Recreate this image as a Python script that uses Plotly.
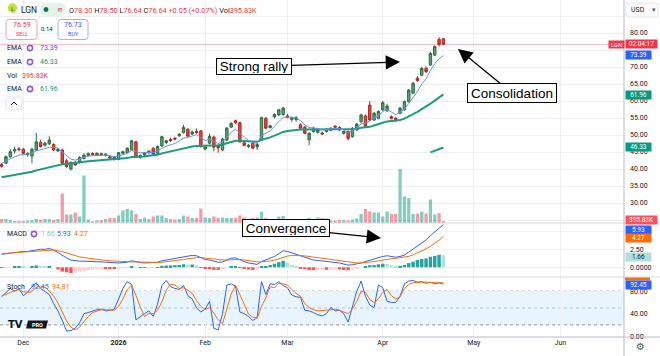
import plotly.graph_objects as go
import pandas as pd

# ---------------- data ----------------
HOLIDAYS = ["2025-11-27", "2025-12-25", "2026-01-01", "2026-01-19",
            "2026-02-16", "2026-04-03", "2026-05-25", "2026-06-19"]
CAL_START, CAL_END = "2025-11-21", "2026-06-30"
MONTH_LABELS = ["Dec", "<b>2026</b>", "Feb", "Mar", "Apr", "May", "Jun"]

open_ = [41.3,41.7,43.6,45.3,45.9,45.8,44.2,43.8,45.6,47.8,
         47.0,47.4,47.2,45.3,45.6,42.4,40.0,41.9,41.9,43.1,
         44.0,44.6,44.0,44.5,44.0,43.6,43.4,42.9,44.6,44.8,
         45.6,48.0,43.5,44.1,44.8,46.1,44.6,46.8,47.8,48.7,
         49.0,49.8,50.7,51.7,50.3,51.0,51.2,45.9,47.6,49.4,
         46.8,45.6,48.5,52.3,54.2,53.6,47.7,46.6,47.6,46.5,
         48.5,54.9,52.2,55.3,55.9,56.0,55.6,54.6,54.5,53.0,
         52.3,48.6,51.0,50.8,50.6,51.0,51.4,52.6,52.2,50.5,
         51.0,49.5,51.5,53.9,55.6,58.8,54.4,54.9,57.4,57.1,
         55.4,54.9,56.4,57.4,59.8,62.3,66.7,67.6,69.6,70.6,
         73.5,78.1,78.30]
high = [41.8,44.0,45.9,46.6,46.5,46.2,44.9,46.2,50.6,48.6,
        48.0,49.6,47.6,46.2,46.0,43.0,42.3,42.4,43.8,44.6,
        44.9,44.9,44.9,44.8,44.6,44.0,43.7,45.0,45.4,46.4,
        48.6,48.3,44.3,45.0,45.6,46.4,46.9,49.8,48.6,49.2,
        49.5,50.6,53.0,52.0,51.3,51.9,51.5,46.8,50.4,49.8,
        47.2,49.2,52.4,53.8,54.5,53.9,48.2,47.3,47.9,48.2,
        55.4,55.3,53.0,56.4,57.7,58.3,56.2,55.4,55.6,53.4,
        52.7,50.8,52.4,51.7,51.0,52.1,52.3,52.9,52.6,51.3,
        51.4,52.3,53.6,56.3,56.0,60.0,56.8,57.3,60.0,59.2,
        55.8,55.4,58.3,60.2,63.5,65.6,67.3,70.0,70.2,74.4,
        76.4,78.8,78.50]
low = [40.4,41.4,43.3,44.5,45.2,44.3,43.6,41.7,45.3,46.3,
       46.6,47.0,45.3,45.0,41.4,40.3,39.6,40.9,41.5,42.8,
       43.7,44.0,43.8,43.8,43.7,43.0,42.5,42.6,44.3,44.6,
       45.4,43.2,43.0,43.8,44.5,44.0,44.3,46.5,47.3,48.0,
       48.5,49.4,50.4,49.4,50.0,50.4,46.3,45.5,47.3,45.2,
       44.8,45.3,48.2,52.0,53.2,47.7,46.7,46.2,45.8,45.6,
       48.2,51.7,51.9,54.9,55.6,55.7,54.9,53.9,53.9,51.7,
       50.2,47.0,50.7,50.4,50.0,50.7,51.1,52.0,51.2,50.1,
       48.4,49.2,51.2,53.6,52.2,54.1,54.1,54.6,57.1,56.8,
       54.6,53.8,56.1,57.1,59.5,62.0,65.7,67.3,68.3,70.3,
       73.2,76.0,76.64]
close = [40.8,43.6,45.1,45.7,45.7,44.6,44.6,45.8,48.0,46.6,
         47.6,48.5,45.6,45.8,41.7,40.7,41.9,41.2,43.4,44.1,
         44.5,44.2,44.6,44.1,44.4,43.2,42.8,44.8,45.1,46.1,
         48.3,43.4,44.0,44.8,45.2,44.4,46.6,49.5,48.3,48.3,
         48.8,50.2,52.2,49.7,50.9,50.7,46.6,46.5,49.6,46.4,
         46.2,48.8,52.0,53.4,53.6,48.0,47.0,47.0,46.1,47.2,
         55.1,52.0,52.7,56.0,57.4,57.9,55.2,55.0,55.1,52.0,
         50.5,50.5,52.0,51.4,50.3,51.7,52.0,52.3,51.5,51.0,
         49.0,52.0,53.2,55.9,52.6,54.4,56.4,56.9,59.5,58.5,
         54.9,54.4,57.9,59.8,63.2,65.2,66.0,69.6,68.6,74.0,
         76.0,76.59,76.64]
volume_m = [0.8,0.8,0.6,0.4,0.4,0.4,0.5,0.6,0.8,0.6,
            0.8,0.8,0.6,0.8,5.9,1.7,1.7,2.1,1.3,9.5,
            0.7,0.35,0.5,0.6,0.8,1.0,1.0,1.5,2.5,2.8,
            2.5,1.8,0.8,1.1,0.8,1.3,1.5,1.5,1.0,0.8,
            0.7,0.8,1.5,1.3,1.0,1.0,2.9,1.1,1.0,1.3,
            1.0,1.1,1.0,1.0,1.0,1.5,1.1,0.8,1.0,1.1,
            2.3,1.0,0.7,0.7,1.3,1.4,0.8,0.6,0.6,0.5,
            0.5,1.0,0.8,1.1,1.0,0.9,0.5,0.5,0.6,0.6,
            0.5,0.7,0.9,1.8,2.8,2.3,2.1,2.1,1.3,2.3,
            1.8,1.8,10.8,5.3,5.0,1.8,1.9,2.3,1.9,4.7,
            1.7,2.0,0.39583]
ema_fast = [41.7,42.2,43.0,43.6,44.1,44.2,44.3,44.6,45.3,45.6,
            45.9,46.4,46.3,46.2,45.0,43.8,42.9,42.6,43.0,43.6,
            43.8,43.9,44.0,44.0,44.1,43.9,43.6,43.8,44.1,44.6,
            45.4,45.0,44.8,44.8,44.9,44.8,45.2,46.1,46.7,47.1,
            47.5,48.2,49.1,49.3,49.8,50.1,49.2,48.4,48.7,48.0,
            47.5,48.0,49.5,50.8,51.7,50.5,49.3,48.5,47.8,47.6,
            49.8,50.5,51.2,52.6,54.0,55.2,55.3,55.2,55.1,54.2,
            53.0,52.2,52.1,51.9,51.5,51.6,51.8,52.0,51.8,51.5,
            50.7,51.3,52.0,53.3,53.4,54.2,55.0,55.7,56.9,57.5,
            56.8,56.0,56.6,57.6,59.3,61.0,62.8,65.0,66.5,69.0,
            71.0,72.4,73.39]
ema_mid = [37.6,37.8,38.0,38.3,38.6,38.8,39.0,39.2,39.6,39.9,
           40.2,40.6,40.9,41.2,41.4,41.5,41.6,41.7,41.9,42.1,
           42.3,42.4,42.5,42.6,42.7,42.8,42.8,42.9,43.0,43.2,
           43.5,43.5,43.6,43.7,43.9,44.0,44.2,44.6,44.9,45.2,
           45.5,45.8,46.2,46.4,46.6,46.8,46.8,46.8,47.0,47.0,
           47.0,47.2,47.6,48.0,48.3,48.3,48.2,48.1,48.0,48.0,
           48.6,48.9,49.3,49.8,50.4,50.9,51.2,51.4,51.6,51.6,
           51.6,51.6,51.6,51.6,51.6,51.6,51.7,51.7,51.7,51.7,
           51.6,51.7,51.8,52.1,52.2,52.4,52.8,53.1,53.6,54.0,
           54.1,54.1,54.4,54.8,55.4,56.1,56.8,57.6,58.3,59.2,
           60.1,61.0,61.96]
ema_slow_tail = [44.9, 45.4, 45.9, 46.33]   # only drawn on the last bars
macd = [1.8,1.9,2.0,2.1,2.2,2.2,2.2,2.3,2.5,2.5,
        2.5,2.6,2.4,2.0,1.6,1.3,1.0,0.9,0.85,0.85,
        0.85,0.8,0.8,0.75,0.7,0.65,0.6,0.6,0.65,0.7,
        0.9,0.75,0.65,0.6,0.6,0.6,0.7,0.9,1.0,1.1,
        1.2,1.3,1.5,1.55,1.65,1.6,1.3,1.1,1.0,0.8,
        0.7,0.75,1.0,1.25,1.3,1.0,0.8,0.6,0.45,0.4,
        0.8,1.0,1.2,1.5,1.9,2.3,2.2,2.0,1.8,1.5,
        1.3,1.1,1.0,0.95,0.9,0.8,0.75,0.7,0.6,0.45,
        0.3,0.35,0.45,0.6,0.8,1.0,1.1,1.3,1.5,1.6,
        1.5,1.4,1.5,1.7,2.1,2.5,3.0,3.4,3.8,4.4,
        4.9,5.5,5.93]
signal = [1.9,1.95,2.0,2.05,2.1,2.15,2.2,2.2,2.25,2.3,
          2.35,2.4,2.4,2.3,2.2,2.0,1.8,1.6,1.45,1.35,
          1.25,1.15,1.1,1.0,0.95,0.9,0.85,0.8,0.75,0.72,
          0.75,0.75,0.72,0.7,0.68,0.66,0.67,0.7,0.76,0.83,
          0.9,0.98,1.08,1.18,1.27,1.34,1.33,1.3,1.25,1.16,
          1.07,1.0,1.0,1.05,1.1,1.08,1.02,0.93,0.83,0.75,
          0.76,0.8,0.88,1.0,1.18,1.4,1.56,1.65,1.68,1.65,
          1.58,1.5,1.4,1.3,1.23,1.15,1.07,1.0,0.92,0.83,
          0.72,0.65,0.6,0.6,0.64,0.71,0.79,0.89,1.01,1.13,
          1.2,1.24,1.3,1.38,1.52,1.72,1.98,2.26,2.57,2.93,
          3.32,3.76,4.27]
hist = [-0.1,-0.05,0.0,0.05,0.1,0.05,0.0,0.1,0.25,0.2,
        0.15,0.2,0.0,-0.3,-0.6,-0.7,-0.8,-0.7,-0.6,-0.5,
        -0.4,-0.35,-0.3,-0.25,-0.25,-0.25,-0.25,-0.2,-0.1,-0.02,
        0.15,0.0,-0.07,-0.1,-0.08,-0.06,0.03,0.2,0.24,0.27,
        0.3,0.32,0.42,0.37,0.38,0.26,-0.03,-0.2,-0.25,-0.36,
        -0.37,-0.25,0.0,0.2,0.2,-0.08,-0.22,-0.33,-0.38,-0.35,
        0.04,0.2,0.32,0.5,0.72,0.9,0.64,0.35,0.12,-0.15,
        -0.28,-0.4,-0.4,-0.35,-0.33,-0.35,-0.32,-0.3,-0.32,-0.38,
        -0.42,-0.3,-0.15,0.0,0.16,0.29,0.31,0.41,0.49,0.47,
        0.3,0.16,0.2,0.32,0.58,0.78,1.02,1.14,1.23,1.47,
        1.58,1.74,1.66]
stoch_k = [70,78,85,80,84,72,78,88,95,85,
           80,74,58,45,28,9,10,14,24,40,
           42,45,47,48,45,46,48,66,85,97,
           92,29,35,40,45,35,57,90,99,88,
           85,83,90,72,66,50,43,48,62,14,
           11,40,91,93,89,43,40,35,28,33,
           97,74,93,92,97,90,86,73,70,69,
           46,45,42,38,36,40,51,45,46,40,
           25,52,80,98,71,55,51,91,86,62,
           60,60,71,93,98,99,96,97,94,96,
           93,95,92.45]
stoch_d = [72,74,78,81,83,79,78,79,87,89,
           87,80,71,59,44,27,16,11,16,26,
           35,42,45,47,47,46,46,53,66,83,
           91,73,52,35,40,40,46,61,82,92,
           91,85,86,82,76,63,53,47,51,41,
           29,22,47,75,91,75,57,39,34,32,
           53,68,88,86,94,93,91,83,76,71,
           58,51,47,45,45,46,47,48,46,43,
           40,48,62,80,78,65,60,66,78,83,
           72,66,70,85,92,95,96,96,96,95,
           95,95,94.81]
PRICE_TICKS = [25, 30, 35, 40, 45, 50, 55, 60, 65, 70, 75, 80, 85]
PRICE_HIDDEN = [25, 75, 85]          # labels covered by value tags in the reference
MACD_TICKS = [0, 2.5, 5.0]
MACD_TICKTEXT = ["0.0000", "2.50", ""]
STOCH_TICKS = [0, 40, 80]
STOCH_UPPER, STOCH_MID, STOCH_LOWER = 80, 50, 20

# ---------------- layout constants ----------------
W, H = 660, 356
PLOT_R, PLOT_B = 624, 337
MAIN_B, MACD_B = 223, 277
FONT = "Roboto, 'Open Sans', sans-serif"
ARIAL = "'Liberation Sans', Arial, sans-serif"
UP_FILL, UP_LINE = "#5c9f72", "#2f6b45"
DN_FILL, DN_LINE = "#e2473d", "#a92a21"
GRID = "#eef0f4"
SEP = "#d6d9e0"


def px(x):
    return x / PLOT_R


def py(y):
    return 1 - y / PLOT_B


cal = pd.bdate_range(CAL_START, CAL_END, freq="C", holidays=HOLIDAYS)
n = len(close)
dates = cal[:n]
xi = list(range(n))
month_idx = [k for k in range(1, len(cal)) if cal[k].month != cal[k - 1].month]
X_RANGE = [-0.38, 143.7]

up = [c >= o for o, c in zip(open_, close)]
vol_colors = ["rgba(8,153,129,0.5)" if u else "rgba(242,54,69,0.5)" for u in up]
hist_colors = []
for k, h in enumerate(hist):
    prev = hist[k - 1] if k else h
    if h >= 0:
        hist_colors.append("#26a69a" if h >= prev else "#b2dfdb")
    else:
        hist_colors.append("#ff5252" if h <= prev else "#ffcdd2")

fig = go.Figure()
fig.add_trace(go.Bar(x=xi, y=volume_m, marker=dict(color=vol_colors, line_width=0),
                     width=0.75, xaxis="x", yaxis="y", hoverinfo="skip"))
fig.add_trace(go.Scatter(x=xi, y=ema_mid, mode="lines", line=dict(color="#1d9c7c", width=2),
                         xaxis="x", yaxis="y2", hoverinfo="skip"))
fig.add_trace(go.Scatter(x=xi[-len(ema_slow_tail):], y=ema_slow_tail, mode="lines",
                         line=dict(color="#1d9c7c", width=2), xaxis="x", yaxis="y2", hoverinfo="skip"))
fig.add_trace(go.Scatter(x=xi, y=ema_fast, mode="lines", line=dict(color="#6c8df7", width=1),
                         xaxis="x", yaxis="y2", hoverinfo="skip"))
fig.add_trace(go.Candlestick(x=xi, open=open_, high=high, low=low, close=close,
                             increasing=dict(fillcolor=UP_FILL, line=dict(color=UP_LINE, width=1)),
                             decreasing=dict(fillcolor=DN_FILL, line=dict(color=DN_LINE, width=1)),
                             xaxis="x", yaxis="y2", hoverinfo="skip"))
fig.add_trace(go.Bar(x=xi, y=hist, marker=dict(color=hist_colors, line_width=0), width=0.8,
                     xaxis="x2", yaxis="y3", hoverinfo="skip"))
fig.add_trace(go.Scatter(x=xi, y=macd, mode="lines", line=dict(color="#2962ff", width=1),
                         xaxis="x2", yaxis="y3", hoverinfo="skip"))
fig.add_trace(go.Scatter(x=xi, y=signal, mode="lines", line=dict(color="#ff6d00", width=1),
                         xaxis="x2", yaxis="y3", hoverinfo="skip"))
fig.add_trace(go.Scatter(x=xi, y=stoch_k, mode="lines", line=dict(color="#2962ff", width=1),
                         xaxis="x3", yaxis="y4", hoverinfo="skip"))
fig.add_trace(go.Scatter(x=xi, y=stoch_d, mode="lines", line=dict(color="#ff6d00", width=1),
                         xaxis="x3", yaxis="y4", hoverinfo="skip"))

xcommon = dict(range=X_RANGE, tickvals=month_idx[:len(MONTH_LABELS)], showgrid=True, gridcolor=GRID,
               zeroline=False, showline=False, fixedrange=True)
ycommon = dict(side="right", showgrid=True, gridcolor=GRID, zeroline=False, showline=False,
               ticks="", ticklabelstandoff=5, tickfont=dict(size=7, color="#131722", family=FONT),
               fixedrange=True)

fig.update_layout(
    width=W, height=H,
    margin=dict(l=0, r=W - PLOT_R, t=0, b=H - PLOT_B, pad=0, autoexpand=False),
    paper_bgcolor="white", plot_bgcolor="white", showlegend=False, hovermode=False,
    font=dict(family=FONT, size=7, color="#131722"), boxgap=0.2,
    xaxis=dict(anchor="y", showticklabels=False, rangeslider=dict(visible=False), **xcommon),
    xaxis2=dict(anchor="y3", matches="x", showticklabels=False, **xcommon),
    xaxis3=dict(anchor="y4", matches="x", ticktext=MONTH_LABELS, showticklabels=True,
                tickfont=dict(size=7, color="#131722"), ticks="", **xcommon),
    yaxis=dict(domain=[py(MAIN_B), 1], range=[0, 0.2 * MAIN_B], visible=False, fixedrange=True),
    yaxis2=dict(overlaying="y", anchor="x", range=[80 - (MAIN_B - 33) / 3.4, 80 + 33 / 3.4],
                tickvals=PRICE_TICKS,
                ticktext=["" if v in PRICE_HIDDEN else f"{v:.2f}" for v in PRICE_TICKS], **ycommon),
    yaxis3=dict(domain=[py(MACD_B), py(MAIN_B)], anchor="x2", range=[-1.35, 6.15],
                tickvals=MACD_TICKS, ticktext=MACD_TICKTEXT, **ycommon),
    yaxis4=dict(domain=[0, py(MACD_B)], anchor="x3", range=[-1.5, 105.2],
                tickvals=STOCH_TICKS, ticktext=[f"{v:.2f}" for v in STOCH_TICKS], **ycommon),
)

shapes = []
# stochastic band and levels
shapes.append(dict(type="rect", xref="paper", yref="y4", x0=0, x1=1, y0=STOCH_LOWER, y1=STOCH_UPPER,
                   fillcolor="rgba(33,150,243,0.1)", line_width=0, layer="below"))
for lv, col in [(STOCH_UPPER, "#9598a1"), (STOCH_MID, "rgba(149,152,161,0.55)"), (STOCH_LOWER, "#9598a1")]:
    shapes.append(dict(type="line", xref="paper", yref="y4", x0=0, x1=1, y0=lv, y1=lv,
                       line=dict(color=col, width=1, dash="dot"), layer="below"))
# last price line
shapes.append(dict(type="line", xref="paper", yref="y2", x0=0, x1=1, y0=close[-1], y1=close[-1],
                   line=dict(color="rgba(242,54,69,0.35)", width=1)))
# pane separators, axis lines
for yy in (MAIN_B, MACD_B, PLOT_B):
    shapes.append(dict(type="line", xref="paper", yref="paper", x0=0, x1=W / PLOT_R, y0=py(yy), y1=py(yy),
                       line=dict(color=SEP if yy != PLOT_B else "#b8bcc6", width=1)))
shapes.append(dict(type="line", xref="paper", yref="paper", x0=1, x1=1, y0=py(H), y1=1,
                   line=dict(color="#b8bcc6", width=1)))


def rrect(x0, y0, x1, y1, r, line, fill="white", lw=1):
    p = (f"M {px(x0 + r)},{py(y0)} L {px(x1 - r)},{py(y0)} Q {px(x1)},{py(y0)} {px(x1)},{py(y0 + r)} "
         f"L {px(x1)},{py(y1 - r)} Q {px(x1)},{py(y1)} {px(x1 - r)},{py(y1)} "
         f"L {px(x0 + r)},{py(y1)} Q {px(x0)},{py(y1)} {px(x0)},{py(y1 - r)} "
         f"L {px(x0)},{py(y0 + r)} Q {px(x0)},{py(y0)} {px(x0 + r)},{py(y0)} Z")
    shapes.append(dict(type="path", xref="paper", yref="paper", path=p, fillcolor=fill,
                       line=dict(color=line, width=lw)))


def circle(cx, cy, r, line, fill="rgba(0,0,0,0)", lw=1.5):
    shapes.append(dict(type="circle", xref="paper", yref="paper", x0=px(cx - r), x1=px(cx + r),
                       y0=py(cy + r), y1=py(cy - r), fillcolor=fill, line=dict(color=line, width=lw)))


ann = []


def text(x, y, s, size=7, color="#131722", xanchor="left", family=FONT, **kw):
    ann.append(dict(x=px(x), y=py(y), xref="paper", yref="paper", text=s, showarrow=False,
                    xanchor=xanchor, yanchor="middle", font=dict(size=size, color=color, family=family), **kw))


def tag(y, s, bg, fg="white", x0=625, w=25):
    ann.append(dict(x=px(x0), y=py(y), xref="paper", yref="paper", text=s, showarrow=False,
                    xanchor="left", yanchor="middle", bgcolor=bg, width=w, height=8, borderpad=0,
                    align="center", font=dict(size=6.5, color=fg, family=FONT)))


# header
circle(12.5, 8, 4.5, "#c4e03a", fill="#c4e03a", lw=0.5)
text(12.5, 8, "L", size=6, color="#1b5e20", xanchor="center")
text(19, 9.5, "LGN", size=8.5)
rrect(40, 3, 65, 16, 5, "#e8f5ee", fill="#e3f3ea")
circle(46, 9.5, 2.2, "#0b6e54", fill="#0b6e54", lw=0.5)
text(55, 9.5, "≋", size=7, color="#e23d6d")
RED = "#f23645"
chg = close[-1] - close[-2]
pct = chg / close[-2] * 100
hdr = (f"O<span style='color:{RED}'>{open_[-1]:.2f}</span> H<span style='color:{RED}'>{high[-1]:.2f}</span> "
       f"L<span style='color:{RED}'>{low[-1]:.2f}</span> C<span style='color:{RED}'>{close[-1]:.2f}</span> "
       f"<span style='color:{RED}'>{chg:+.2f} ({pct:+.2f}%)</span> "
       f"Vol<span style='color:{RED}'>{volume_m[-1] * 1000:.2f}K</span>")
text(67, 10, hdr, size=7.3)
rrect(6, 19.5, 37, 39.5, 3, "#f7a1a7")
text(21.5, 25, f"{close[-2]:.2f}", size=7, color=RED, xanchor="center")
text(21.5, 34, "SELL", size=5.5, color=RED, xanchor="center")
text(47.5, 28.5, "0.14", size=6, xanchor="center")
rrect(58, 19.5, 88, 39.5, 3, "#9bb5fb")
text(73, 25, "76.73", size=7, color="#2962ff", xanchor="center")
text(73, 34, "BUY", size=5.5, color="#2962ff", xanchor="center")
# legend rows
for yy, val, col in [(48, ema_fast[-1], "#2962ff"), (62, ema_slow_tail[-1], "#089981"),
                     (89, ema_mid[-1], "#089981")]:
    text(5, yy, "EMA", size=7)
    circle(30, yy, 2.6, "#8e5bd8", lw=1.6)
    text(38, yy, f"{val:.2f}", size=7, color=col)
text(5, 75.5, "Vol", size=7)
text(20, 75.5, f"{volume_m[-1] * 1000:.2f}K", size=7, color=RED)
rrect(6, 97, 22, 110, 2, "#e0e3eb")
shapes.append(dict(type="path", xref="paper", yref="paper",
                   path=f"M {px(11)},{py(105)} L {px(14)},{py(102)} L {px(17)},{py(105)}",
                   line=dict(color="#131722", width=1)))
text(5, 234, "MACD", size=7)
circle(34, 234, 2.6, "#8e5bd8", lw=1.6)
text(39, 234, f"{hist[-1]:.2f}", size=7, color="#80cbc4")
text(55, 234, f"{macd[-1]:.2f}", size=7, color="#2962ff")
text(72, 234, f"{signal[-1]:.2f}", size=7, color="#ff6d00")
text(5, 287, "Stoch", size=7)
text(29, 287, f"{stoch_k[-1]:.2f}", size=7, color="#2962ff")
text(50, 287, f"{stoch_d[-1]:.2f}", size=7, color="#ff6d00")
# TV PRO logo
text(6, 324.5, "<b>TV</b>", size=10, color="#131722", family="'DejaVu Sans', sans-serif")
shapes.append(dict(type="path", xref="paper", yref="paper",
                   path=f"M {px(28)},{py(320.5)} L {px(48)},{py(320.5)} L {px(46)},{py(328.5)} "
                        f"L {px(26)},{py(328.5)} Z", fillcolor="#131722", line_width=0))
text(37, 324.5, "<b>PRO</b>", size=5.5, color="white", xanchor="center")
# right side
rrect(626, 3, 658, 17, 3, "#e0e3eb")
text(629, 10, "USD", size=7)
text(650, 10, "▾", size=7, color="#555")
text(641, 346, "⚙", size=10, color="#555", xanchor="center", family="'DejaVu Sans', sans-serif")
ann.append(dict(x=px(608), y=py(44), xref="paper", yref="paper", text="LGN", showarrow=False,
                xanchor="left", yanchor="middle", bgcolor=RED, width=15, height=7, borderpad=0,
                font=dict(size=6, color="white", family=FONT)))
tag(44, "02:04:17", RED, w=31)
tag(55.3, f"{ema_fast[-1]:.2f}", "#2962ff")
tag(95, f"{ema_mid[-1]:.2f}", "#089981")
tag(147, f"{ema_slow_tail[-1]:.2f}", "#089981")
tag(219.5, f"{volume_m[-1] * 1000:.2f}K", "#f7525f", w=31)
tag(229.5, f"{macd[-1]:.2f}", "#2962ff")
tag(238.5, f"{signal[-1]:.2f}", "#ff6d00")
tag(256.7, f"{hist[-1]:.2f}", "#b2dfdb", fg="#131722")
shapes.append(dict(type="rect", xref="paper", yref="paper", x0=px(625), x1=px(650), y0=py(280.5),
                   y1=py(277.5), fillcolor="#ff6d00", line_width=0))
tag(285, f"{stoch_k[-1]:.2f}", "#2962ff")

# call-outs


def callout(s, tip, center, w, h):
    ann.append(dict(x=px(tip[0]), y=py(tip[1]), xref="paper", yref="paper", text=s, showarrow=True,
                    ax=center[0] - tip[0], ay=center[1] - tip[1], arrowhead=2, arrowsize=2.2,
                    arrowwidth=1.3, arrowcolor="#000", bgcolor="white", bordercolor="#000",
                    borderwidth=1, borderpad=1, width=w, height=h,
                    font=dict(size=13.5, color="#000", family=ARIAL)))


callout("Strong rally", (400, 62), (254, 66.5), 72, 13)
callout("Convergence", (381, 238), (285.5, 228), 84, 14)
callout("Consolidation", (458, 49), (512, 93), 86, 16)

fig.update_layout(shapes=shapes, annotations=ann)
fig.write_html("out.html", config={"displayModeBar": False},
               post_script="document.body.style.margin='0px';document.body.style.overflow='hidden';")
